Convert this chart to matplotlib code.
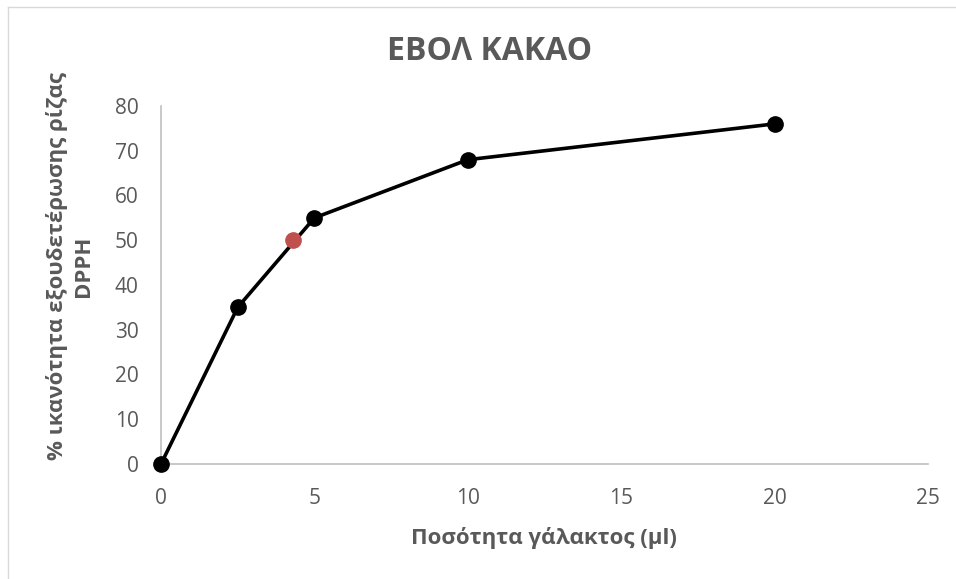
import matplotlib
matplotlib.use("Agg")
import matplotlib.pyplot as plt
from matplotlib.lines import Line2D

x_vals = [0, 2.5, 5, 10, 20]
y_vals = [0, 35, 55, 68, 76]
half_x = [4.3]
half_y = [50]
x_ticks = [0, 5, 10, 15, 20, 25]
y_ticks = [0, 10, 20, 30, 40, 50, 60, 70, 80]

title = "ΕΒΟΛ ΚΑΚΑΟ"
xlabel = "Ποσότητα γάλακτος (μl)"
ylabel = "% ικανότητα εξουδετέρωσης ρίζας\nDPPH"

plt.rcParams['font.family'] = ['Open Sans', 'DejaVu Sans']
W, H = 956, 579
fig = plt.figure(figsize=(W / 100, H / 100), dpi=100)
ax = fig.add_axes([161 / W, 1 - 464 / H, (928 - 161) / W, (464 - 106) / H])

ax.plot(x_vals, y_vals, color='black', lw=2.6, marker='o', ms=11, zorder=3, clip_on=False)
ax.plot(half_x, half_y, linestyle='none', marker='o', ms=11, color='#C0504D', zorder=4, clip_on=False)

ax.set_xlim(0, 25)
ax.set_ylim(0, 80)
ax.set_xticks(x_ticks)
ax.set_yticks(y_ticks)
for s in ['top', 'right']:
    ax.spines[s].set_visible(False)
for s in ['left', 'bottom']:
    ax.spines[s].set_color('#BFBFBF')
    ax.spines[s].set_linewidth(1.2)
ax.tick_params(length=0, labelsize=15, labelcolor='#595959')
ax.tick_params(axis='x', pad=17)
ax.tick_params(axis='y', pad=16)

fig.text(490 / W, 1 - 51 / H, title, ha='center', va='center', fontsize=23,
         fontweight='bold', color='#595959')
fig.text(544 / W, 1 - 538 / H, xlabel, ha='center', va='center', fontsize=16,
         fontweight='bold', color='#595959')
fig.text(70 / W, 1 - 266 / H, ylabel, ha='center', va='center', fontsize=16,
         fontweight='bold', color='#595959', rotation=90, multialignment='center',
         linespacing=1.35)

# chart border
fig.add_artist(Line2D([8 / W, 1.0], [1 - 7 / H, 1 - 7 / H], color='#D9D9D9', lw=1))
fig.add_artist(Line2D([8 / W, 8 / W], [0, 1 - 7 / H], color='#D9D9D9', lw=1))

fig.savefig("out.png", dpi=100)
